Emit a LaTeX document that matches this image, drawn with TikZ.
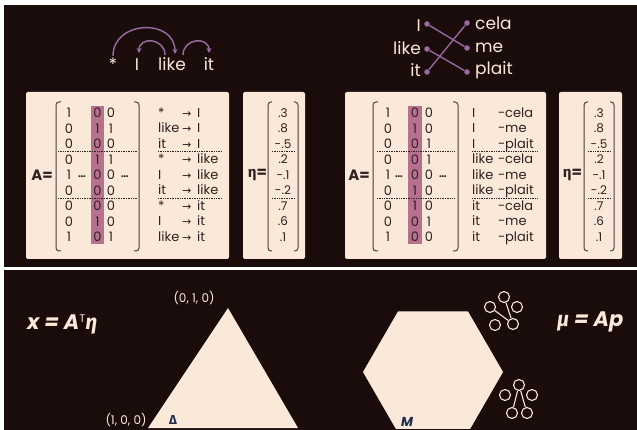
\documentclass[tikz,border=0pt]{standalone}
\usepackage{fontspec}
\setmainfont{Poppins}
\newfontfamily\greekfont{Fira Sans}
\newfontfamily\arrowfont{DejaVu Sans}
\usetikzlibrary{calc,arrows.meta}
\definecolor{bgdark}{HTML}{1A0C0B}
\definecolor{cream}{HTML}{FAE8D8}
\definecolor{ink}{HTML}{2E2222}
\definecolor{arcpurple}{HTML}{9A6BA5}
\definecolor{hilite}{HTML}{B7718F}
\definecolor{brack}{HTML}{4A4040}
\definecolor{navy}{HTML}{1F2B4D}
\begin{document}
\begin{tikzpicture}[x=1pt,y=-1pt,
  word/.style={text=cream, font=\fontsize{17}{17}\selectfont, inner sep=0pt, anchor=base},
  depline/.style={draw=arcpurple, line width=1.4pt, -{Stealth[length=5pt,width=5pt]}},
  aline/.style={draw=arcpurple, line width=1.3pt},
  adot/.style={circle, fill=arcpurple, inner sep=0pt, minimum size=5.5pt},
  ent/.style={text=ink, font=\fontsize{13}{13}\selectfont, inner sep=0pt},
  val/.style={text=ink, font=\fontsize{12}{12}\selectfont, inner sep=0pt},
  lab/.style={text=ink, font=\fontsize{13}{13}\selectfont, inner sep=0pt, anchor=base west},
  arr/.style={text=ink, font=\arrowfont\fontsize{11}{11}\selectfont, inner sep=0pt, anchor=base west},
  eqlab/.style={text=ink, font=\bfseries\fontsize{15}{15}\selectfont, inner sep=0pt},
  brk/.style={draw=brack, line width=1pt, rounded corners=3pt},
  dotline/.style={draw=ink, line width=0.7pt, dash pattern=on 0.7pt off 1pt},
  panel/.style={fill=cream, rounded corners=2pt},
  gnode/.style={circle, draw=cream, line width=1.1pt, inner sep=0pt, minimum size=11pt},
  gedge/.style={draw=cream, line width=1.1pt},
  small/.style={text=cream, font=\fontsize{12}{12}\selectfont, inner sep=0pt},
  formula/.style={text=cream, font=\bfseries\itshape\fontsize{21}{21}\selectfont, inner sep=0pt, anchor=base west}
]
\useasboundingbox (0,0) rectangle (637,430);
\fill[white] (0,0) rectangle (637,430);
\fill[bgdark] (4,5) rectangle (637,267);
\fill[bgdark] (4,270) rectangle (637,430);

% ---------- dependency sentence ----------
\node[word] (star) at (113,71) {*};
\node[word] (wI) at (137,71) {I};
\node[word] (wlike) at (172,71) {like};
\node[word] (wit) at (209,71) {it};
\draw[depline] ($(star.base)+(0,-15)$) .. controls +(0,-36) and +(0,-36) .. ($(wlike.base)+(3,-17)$);
\draw[depline] ($(wlike.base)+(-7,-16)$) .. controls +(0,-17) and +(0,-17) .. ($(wI.base)+(2,-18)$);
\draw[depline] ($(wlike.base)+(11,-16)$) .. controls +(0,-17) and +(0,-17) .. ($(wit.base)+(0,-18)$);

% ---------- alignment ----------
\node[adot] (dI) at (427,24) {};
\node[adot] (dlike) at (427,49) {};
\node[adot] (dit) at (427,72) {};
\node[adot] (dcela) at (467,23) {};
\node[adot] (dme) at (467,48) {};
\node[adot] (dplait) at (467,72) {};
\node[word, anchor=base east] (tI) at (421,32) {I};
\node[word, anchor=base east] (tlike) at (421,55) {like};
\node[word, anchor=base east] (tit) at (421,77) {it};
\node[word, anchor=base west] (tcela) at (475,30) {cela};
\node[word, anchor=base west] (tme) at (475,53) {me};
\node[word, anchor=base west] (tplait) at (475,75) {plait};
\draw[aline] (dI) -- (dme);
\draw[aline] (dlike) -- (dplait);
\draw[aline] (dit) -- (dcela);

% ---------- panels ----------
\fill[panel] (26,92) rectangle (229,259);
\fill[panel] (243,92) rectangle (305,259);
\fill[panel] (345,92) rectangle (546,259);
\fill[panel] (559,92) rectangle (622,259);

% ---------- left matrix A ----------
\fill[hilite] (91,106) rectangle (104,244);
\node[eqlab] (A1eq) at (42,175) {A=};
\draw[brk] (61,102) -- (56,102) -- (56,251) -- (61,251);
\draw[brk] (134,102) -- (139,102) -- (139,251) -- (134,251);
\foreach \a/\b/\c [count=\i] in {1/0/0,0/1/1,0/0/0,0/1/1,1/0/0,0/0/0,0/0/0,0/1/0,1/0/1} {
  \node[ent] (LA\i) at (69,{113+(\i-1)*15.5}) {\a};
  \node[ent] (LB\i) at (97.5,{113+(\i-1)*15.5}) {\b};
  \node[ent] (LC\i) at (111,{113+(\i-1)*15.5}) {\c};
}
\node[ent, font=\bfseries\fontsize{10}{10}\selectfont] (Ldots1) at (82,177) {…};
\node[ent, font=\bfseries\fontsize{10}{10}\selectfont] (Ldots2) at (125,177) {…};
\draw[dotline] (58,151.5) -- (137,151.5);
\draw[dotline] (58,198) -- (137,198);
\foreach \s/\t [count=\i] in {*/I,like/I,it/I,*/like,I/like,it/like,*/it,I/it,like/it} {
  \node[lab] (LS\i) at (158,{113+(\i-1)*15.5+4.5}) {\s};
  \node[arr] (LR\i) at (182,{113+(\i-1)*15.5+4.5}) {→};
  \node[lab] (LT\i) at (197,{113+(\i-1)*15.5+4.5}) {\t};
}
\draw[dotline] (158,151.5) -- (221,151.5);
\draw[dotline] (158,198) -- (221,198);

% ---------- left eta ----------
\node[eqlab] (E1eq) at (257.5,175) {{\greekfont η}=};
\draw[brk] (272,102) -- (268,102) -- (268,251) -- (272,251);
\draw[brk] (294,102) -- (298,102) -- (298,251) -- (294,251);
\foreach \v [count=\i] in {.3,.8,-.5,.2,-.1,-.2,.7,.6,.1} {
  \node[val] (EL\i) at (283,{113+(\i-1)*15.5}) {\v};
}
\draw[dotline] (272,151.5) -- (295,151.5);
\draw[dotline] (272,198) -- (295,198);

% ---------- right matrix A ----------
\fill[hilite] (408,106) rectangle (422,244);
\node[eqlab] (A2eq) at (359,175) {A=};
\draw[brk] (378,102) -- (373,102) -- (373,251) -- (378,251);
\draw[brk] (453,102) -- (458,102) -- (458,251) -- (453,251);
\foreach \a/\b/\c [count=\i] in {1/0/0,0/1/0,0/0/1,0/0/1,1/0/0,0/1/0,0/1/0,0/0/1,1/0/0} {
  \node[ent] (RA\i) at (388,{113+(\i-1)*15.5}) {\a};
  \node[ent] (RB\i) at (415,{113+(\i-1)*15.5}) {\b};
  \node[ent] (RC\i) at (429,{113+(\i-1)*15.5}) {\c};
}
\node[ent, font=\bfseries\fontsize{10}{10}\selectfont] (Rdots1) at (399,177) {…};
\node[ent, font=\bfseries\fontsize{10}{10}\selectfont] (Rdots2) at (443,177) {…};
\draw[dotline] (377,151.5) -- (454,151.5);
\draw[dotline] (377,198) -- (454,198);
\foreach \s/\t [count=\i] in {I/cela,I/me,I/plait,like/cela,like/me,like/plait,it/cela,it/me,it/plait} {
  \node[lab] (RS\i) at (472,{113+(\i-1)*15.5+4.5}) {\s};
  \node[lab] (RH\i) at (498,{113+(\i-1)*15.5+4.5}) {-};
  \node[lab] (RT\i) at (505,{113+(\i-1)*15.5+4.5}) {\t};
}
\draw[dotline] (472,151.5) -- (538,151.5);
\draw[dotline] (472,198) -- (538,198);

% ---------- right eta ----------
\node[eqlab] (E2eq) at (572.5,175) {{\greekfont η}=};
\draw[brk] (588,102) -- (584,102) -- (584,251) -- (588,251);
\draw[brk] (610,102) -- (614,102) -- (614,251) -- (610,251);
\foreach \v [count=\i] in {.3,.8,-.5,.2,-.1,-.2,.7,.6,.1} {
  \node[val] (ER\i) at (599,{113+(\i-1)*15.5}) {\v};
}
\draw[dotline] (588,151.5) -- (611,151.5);
\draw[dotline] (588,198) -- (611,198);

% ---------- bottom panel ----------
\node[formula] (fx) at (27,329) {x = A\raisebox{6.5pt}{\mdseries\upshape\fontsize{11}{11}\selectfont T}{\greekfont η}};
\node[formula] (fmu) at (557,326) {{\greekfont μ} = Ap};

\fill[cream] (228,308) -- (298,428) -- (148,428) -- cycle;
\node[small] (v010) at (194,298) {(0, 1, 0)};
\node[small] (v100) at (126,420) {(1, 0, 0)};
\node[text=navy, font=\greekfont\bfseries\fontsize{13}{13}\selectfont, inner sep=0pt] (delta) at (173,420) {Δ};

\begin{scope}
\clip (4,270) rectangle (637,428);
\fill[cream] (363,372) -- (398,311.4) -- (468,311.4) -- (503,372) -- (468,432.6) -- (398,432.6) -- cycle;
\end{scope}
\node[text=navy, font=\bfseries\itshape\fontsize{13}{13}\selectfont, inner sep=0pt] (mlab) at (407,422) {M};

% graph icon 1
\node[gnode] (gaT) at (504,297) {};
\node[gnode] (gaR) at (517,307) {};
\node[gnode] (gaL) at (490,307) {};
\node[gnode] (gaBL) at (495,325) {};
\node[gnode] (gaBR) at (513,324) {};
\draw[gedge] (gaT) -- (gaBR);
\draw[gedge] (gaL) -- (gaBR);
% graph icon 2
\node[gnode] (gbT) at (519,385) {};
\node[gnode] (gbL) at (505,395) {};
\node[gnode] (gbR) at (532,395) {};
\node[gnode] (gbBL) at (512,413) {};
\node[gnode] (gbBR) at (527,413) {};
\draw[gedge] (gbT) -- (gbBL);
\draw[gedge] (gbT) -- (gbBR);
\end{tikzpicture}
\end{document}
